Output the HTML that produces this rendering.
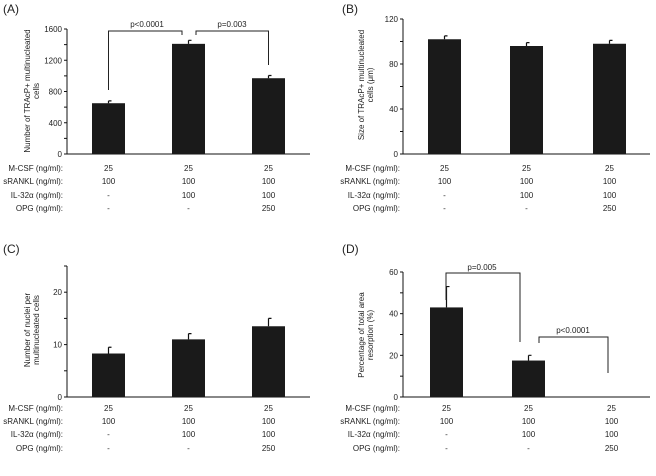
<!DOCTYPE html>
<html><head><meta charset="utf-8"><style>
html,body{margin:0;padding:0;background:#fff;}
svg{display:block;font-family:"Liberation Sans",Arial,sans-serif;}
</style></head><body>
<svg id="fig" width="656" height="476" viewBox="0 0 656 476"></svg>
<script>
const panelALabels = ["(A)","(B)","(C)","(D)"];
const valuesA = [650, 1410, 970];
const errorsA = [30, 45, 35];
const ticksA = [0, 400, 800, 1200, 1600];
const valuesB = [102, 96, 98];
const errorsB = [3, 3, 3];
const ticksB = [0, 40, 80, 120];
const valuesC = [8.3, 11, 13.5];
const errorsC = [1.2, 1.1, 1.5];
const ticksC = [0, 10, 20];
const valuesD = [43, 17.5, 0];
const errorsD = [10, 2.5, 0];
const ticksD = [0, 20, 40, 60];
const rowLabels = ["M-CSF (ng/ml):","sRANKL (ng/ml):","IL-32\u03b1 (ng/ml):","OPG (ng/ml):"];
const rowValues = [["25","25","25"],["100","100","100"],["-","100","100"],["-","-","250"]];

const NS="http://www.w3.org/2000/svg";
const svg=document.getElementById('fig');
function mk(tag,attrs,parent,text){const e=document.createElementNS(NS,tag);for(const k in attrs)e.setAttribute(k,attrs[k]);if(text!==undefined)e.textContent=text;(parent||svg).appendChild(e);return e;}

const panels=[
 {id:'a',title:panelALabels[0],tx:3,ty:13,ax:67,ax2:310,y0:154,yTop:29,max:1600,minor:200,ticks:ticksA,vals:valuesA,errs:errorsA,bars:[92,172,252],rows:[168,181,195,208],labelX:63,ylab:["Number of TRAcP+ multinucleated","cells"],ylx:30,yly:91},
 {id:'b',title:panelALabels[1],tx:342,ty:13,ax:403,ax2:650,y0:154,yTop:19,max:120,minor:20,ticks:ticksB,vals:valuesB,errs:errorsB,bars:[428,510,593],rows:[168,181,195,208],labelX:400,ylab:["Size of TRAcP+ multinucleated","cells (\u03bcm)"],ylx:364,yly:85},
 {id:'c',title:panelALabels[2],tx:3,ty:253,ax:67,ax2:310,y0:397,yTop:266,max:25,minor:5,ticks:ticksC,vals:valuesC,errs:errorsC,bars:[92,172,252],rows:[408,421,434,448],labelX:63,ylab:["Number of nuclei per","multinucleated cells"],ylx:30,yly:330},
 {id:'d',title:panelALabels[3],tx:342,ty:253,ax:403,ax2:650,y0:397,yTop:272,max:60,minor:10,ticks:ticksD,vals:valuesD,errs:errorsD,bars:[430,512,595],rows:[408,421,434,448],labelX:400,ylab:["Percentage of total area","resorption (%)"],ylx:364,yly:335}
];
const BW=33;
panels.forEach(p=>{
 const g=mk('g',{});
 
 
 const sy=v=>p.y0-(v/p.max)*(p.y0-p.yTop);
 const t=mk('text',{x:p.tx,y:p.ty,'font-size':12,fill:'#222'},g,p.title);
 
 
 const ya=mk('line',{x1:p.ax,x2:p.ax,y1:p.yTop,y2:p.y0,stroke:'#111','stroke-width':1},g);
 
 
 const xa=mk('line',{x1:p.ax,x2:p.ax2,y1:p.y0,y2:p.y0,stroke:'#111','stroke-width':1},g);
 
 
 for(let v=0;v<=p.max+1e-9;v+=p.minor){mk('line',{x1:p.ax-3,x2:p.ax,y1:sy(v),y2:sy(v),stroke:'#111'},g);}
 p.ticks.forEach(v=>{
  const tl=mk('text',{x:p.ax-5,y:sy(v)+3,'font-size':8,'text-anchor':'end',fill:'#222'},g,String(v));
  
  
 });
 const yl=mk('text',{transform:`translate(${p.ylx},${p.yly}) rotate(-90)`,'font-size':8,'text-anchor':'middle',fill:'#222'},g);
 
 
 p.ylab.forEach((s,i)=>mk('tspan',{x:0,dy:i?9:0},yl,s));
 p.vals.forEach((v,i)=>{
  const x=p.bars[i],cx=x+BW/2;
  if(v>0){
   const r=mk('rect',{x:x,y:sy(v),width:BW,height:p.y0-sy(v),fill:'#1a1a1a'},g);
   
   
   const e=mk('path',{d:`M${cx},${sy(v)} V${sy(v+p.errs[i])} M${cx},${sy(v+p.errs[i])} h3`,stroke:'#111',fill:'none','stroke-width':1.2},g);
   
   
  }
 });
 p.rows.forEach((ry,ri)=>{
  const l=mk('text',{x:p.labelX,y:ry+3,'font-size':8,'text-anchor':'end',fill:'#222'},g,rowLabels[ri]);
  
  
  rowValues[ri].forEach((s,ci)=>{
   const c=mk('text',{x:p.bars[ci]+BW/2,y:ry+3,'font-size':8,'text-anchor':'middle',fill:'#222'},g,s);
   
   
  });
 });
 p.sy=sy;
});
function bracket(d,txt,tx,ty){
 const b=mk('path',{d:d,stroke:'#222',fill:'none','stroke-width':1});
 
 
 const t=mk('text',{x:tx,y:ty,'font-size':8,'text-anchor':'middle',fill:'#222'},svg,txt);
 
 
}
bracket("M108.5,90 V31 H182 V35","p<0.0001",147,27);
bracket("M196,35 V31 H268.5 V65","p=0.003",232,27);
bracket("M446,300 V273 H520 V342","p=0.005",482,270);
bracket("M539,343 V337 H608 V373","p<0.0001",573,333);
</script>
</body></html>
